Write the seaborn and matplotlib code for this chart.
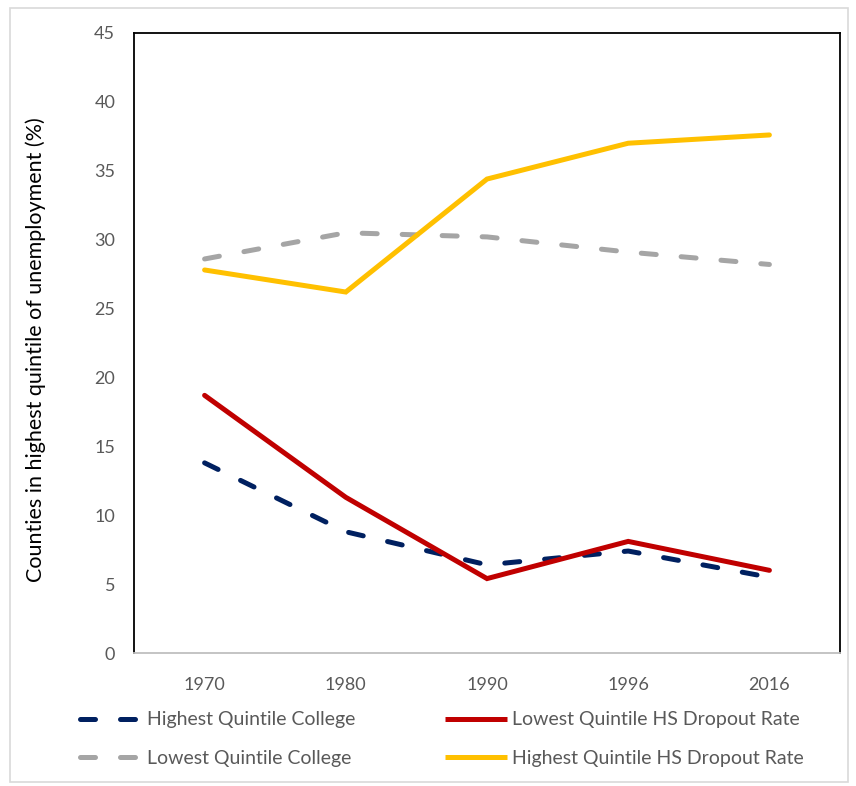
import matplotlib
matplotlib.use("Agg")
import matplotlib.pyplot as plt
from matplotlib.patches import Rectangle
import pandas as pd
import seaborn as sns

# Census years (treated as evenly spaced categories)
years = ["1970", "1980", "1990", "1996", "2016"]

# Share of counties in the highest unemployment quintile (%)
highest_quintile_college = [13.8, 8.8, 6.4, 7.4, 5.5]
lowest_quintile_hs_dropout = [18.7, 11.3, 5.4, 8.1, 6.0]
lowest_quintile_college = [28.6, 30.5, 30.2, 29.1, 28.2]
highest_quintile_hs_dropout = [27.8, 26.2, 34.4, 37.0, 37.6]

series_names = [
    "Highest Quintile College",
    "Lowest Quintile HS Dropout Rate",
    "Lowest Quintile College",
    "Highest Quintile HS Dropout Rate",
]
series_values = [
    highest_quintile_college,
    lowest_quintile_hs_dropout,
    lowest_quintile_college,
    highest_quintile_hs_dropout,
]
colors = ["#002060", "#C00000", "#A5A5A5", "#FFC000"]
dashed = [True, False, True, False]

df = pd.DataFrame(
    [(name, yr, v) for name, vals in zip(series_names, series_values)
     for yr, v in zip(years, vals)],
    columns=["series", "year", "value"],
)

sns.set_theme(style="white")
plt.rcParams["font.family"] = ["Lato", "DejaVu Sans"]

fig = plt.figure(figsize=(8.56, 7.86), dpi=100)
ax = fig.add_axes([134 / 856, 1 - 653 / 786, (840 - 134) / 856, (653 - 33) / 786])

sns.lineplot(
    data=df, x="year", y="value", hue="series", style="series",
    hue_order=series_names, style_order=series_names,
    palette=dict(zip(series_names, colors)),
    dashes={n: ((3.0, 5.0) if d else "") for n, d in zip(series_names, dashed)},
    linewidth=3.6, sort=False, ax=ax, legend=True,
)
for line in ax.lines:
    line.set_dash_capstyle("round")
    line.set_solid_capstyle("round")
    line.set_solid_joinstyle("miter")

handles, labels = ax.get_legend_handles_labels()
ax.get_legend().remove()
for h in handles:
    h.set_linewidth(3.6)
    h.set_dash_capstyle("round")
    h.set_solid_capstyle("butt")
lookup = dict(zip(labels, handles))
# column-major order so the rows read left to right
order = [series_names[0], series_names[2], series_names[1], series_names[3]]
fig.legend(
    [lookup[n] for n in order], order, ncol=2,
    loc="center left", bbox_to_anchor=(80 / 856, 1 - 739 / 786),
    frameon=False, fontsize=14, labelcolor="#595959",
    handlelength=3.2, handletextpad=0.25, columnspacing=4.6,
    labelspacing=1.1, borderaxespad=0, borderpad=0,
)

ax.set_xlim(-0.5, 4.5)
ax.set_ylim(0, 45)
ax.set_yticks(range(0, 46, 5))
ax.set_xlabel("")
ax.set_ylabel("Counties in highest quintile of unemployment (%)",
              fontsize=15.5, color="#000000")
ax.yaxis.set_label_coords(-0.124, 0.49)
ax.tick_params(axis="both", length=0, labelsize=13, labelcolor="#595959")
ax.tick_params(axis="x", pad=17)
ax.tick_params(axis="y", pad=13.5)
for name, s in ax.spines.items():
    s.set_visible(True)
    s.set_color("#000000")
    s.set_linewidth(1.3)
ax.spines["bottom"].set_color("#BFBFBF")
ax.spines["bottom"].set_zorder(3)
ax.grid(False)

# light outer frame around the whole chart area
fig.patches.append(Rectangle((10 / 856, 4 / 786), 838 / 856, 774 / 786,
                             transform=fig.transFigure, fill=False,
                             edgecolor="#d9d9d9", linewidth=1.2))

fig.savefig("out.png", dpi=100)
